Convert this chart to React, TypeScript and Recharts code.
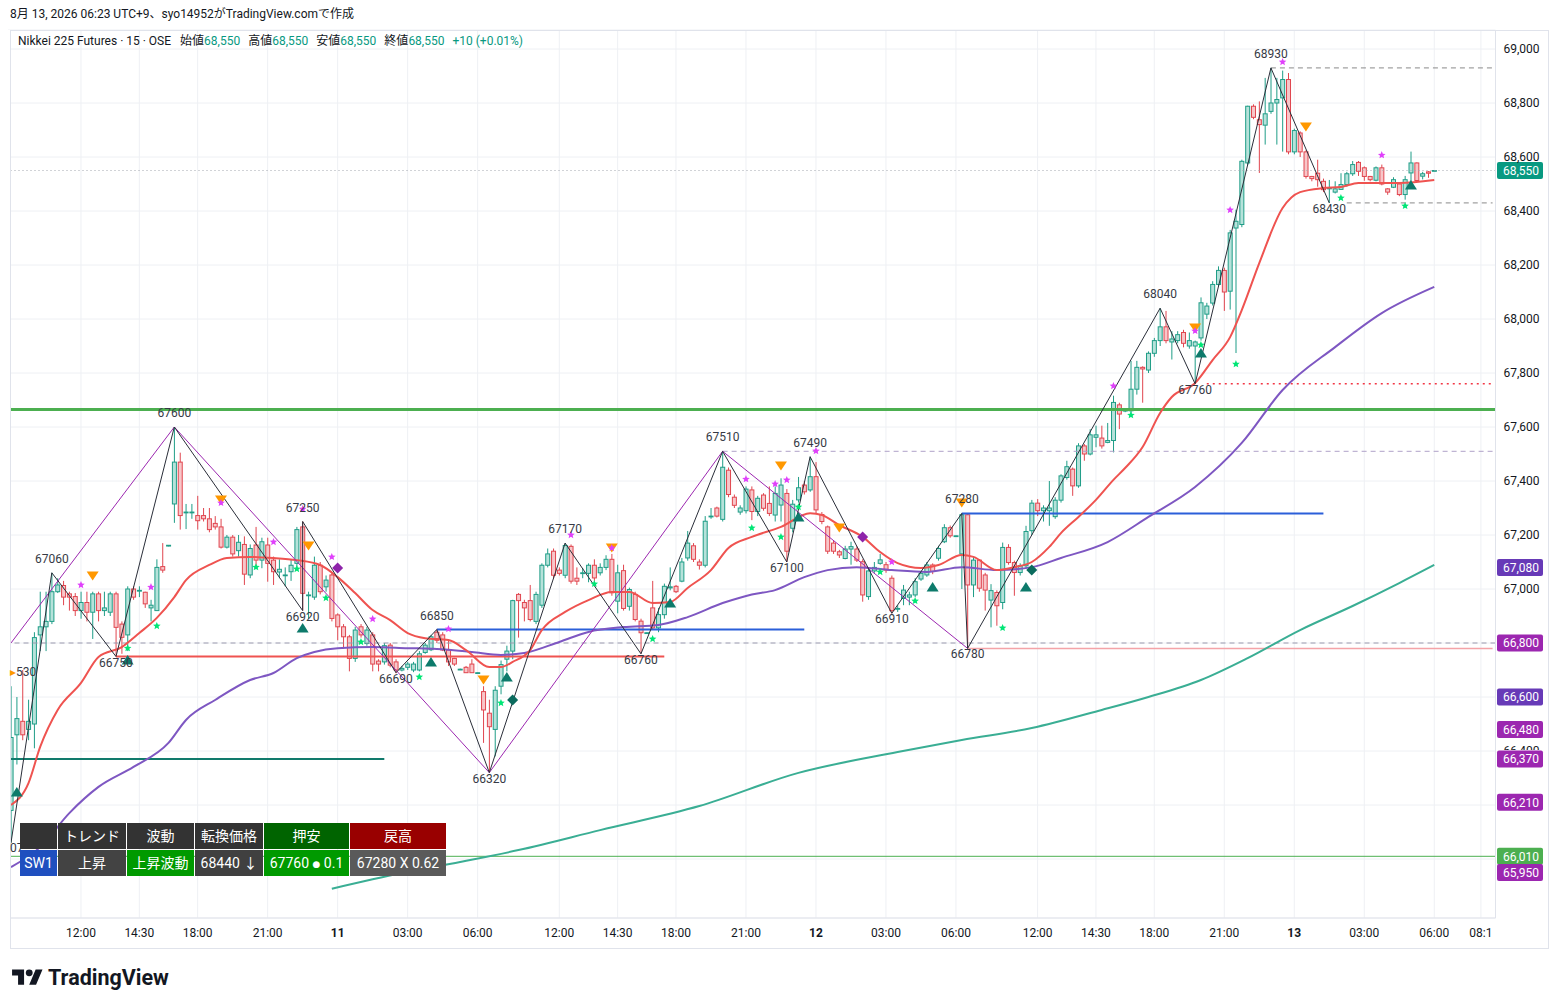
import React from 'react';
import { ComposedChart, Bar, Line, XAxis, YAxis, CartesianGrid, ReferenceLine } from 'recharts';

// 15-minute candles, index 0 = 09:00 on the 10th
const opens = [
  66180, 66460, 66510, 66480, 66500, 66830, 66860, 66880, 66990, 67013,
  66982, 66972, 66920, 66950, 66914, 66982, 66920, 66914, 66982, 66870,
  66830, 67000, 66993, 66988, 66930, 66920, 67083, 67160, 67315, 67470,
  67282, 67282, 67272, 67272, 67260, 67243, 67230, 67155, 67192, 67142,
  67165, 67052, 67163, 67107, 67163, 67107, 67063, 67050, 67064, 67095,
  67230, 66975, 66970, 67088, 67008, 67052, 66904, 66860, 66823, 66743,
  66860, 66798, 66830, 66733, 66730, 66792, 66730, 66700, 66710, 66700,
  66700, 66765, 66775, 66840, 66830, 66774, 66743, 66701, 66710, 66722,
  66690, 66620, 66540, 66480, 66640, 66740, 66770, 66980, 66950, 66957,
  66880, 66940, 67088, 67140, 67070, 67051, 67158, 67040, 67058, 67058,
  67088, 67060, 67080, 67110, 66955, 67068, 66936, 66980, 66881, 66838,
  66930, 66856, 66905, 67004, 67010, 67029, 67115, 67160, 67100, 67088,
  67268, 67300, 67258, 67440, 67340, 67285, 67290, 67367, 67287, 67348,
  67317, 67274, 67311, 67354, 67225, 67330, 67385, 67367, 67416, 67276,
  67230, 67170, 67138, 67113, 67148, 67148, 67101, 66972, 67067, 67095,
  67090, 67040, 66925, 66965, 66970, 66978, 67037, 67052, 67089, 67114,
  67175, 67227, 67197, 67130, 67275, 67015, 67107, 67052, 66959, 66987,
  66950, 67154, 67098, 67061, 67086, 67216, 67318, 67290, 67290, 67268,
  67329, 67413, 67444, 67382, 67530, 67500, 67562, 67559, 67543, 67550,
  67682, 67660, 67660, 67740, 67821, 67811, 67873, 67920, 67971, 67915,
  67920, 67950, 67900, 67900, 67930, 68018, 68059, 68128, 68180, 68103,
  68337, 68350, 68578, 68788, 68738, 68718, 68769, 68800, 68819, 68887,
  68619, 68689, 68619, 68528, 68540, 68510, 68482, 68470, 68480, 68498,
  68538, 68580, 68560, 68528, 68514, 68560, 68482, 68488, 68500, 68461,
  68541, 68578, 68529, 68545, 68550,
];
const highs = [
  66640, 66600, 66700, 66590, 66840, 66990, 66990, 67060, 67040, 67030,
  66990, 66985, 66990, 66990, 66990, 66990, 66990, 66990, 66990, 66880,
  67010, 67010, 67010, 66990, 66960, 67110, 67170, 67162, 67600, 67505,
  67315, 67315, 67345, 67300, 67300, 67270, 67260, 67200, 67200, 67200,
  67195, 67165, 67230, 67190, 67190, 67120, 67110, 67080, 67110, 67230,
  67250, 66990, 67120, 67100, 67050, 67060, 66910, 66870, 66830, 66860,
  66870, 66860, 66840, 66740, 66800, 66800, 66740, 66715, 66730, 66730,
  66770, 66800, 66830, 66850, 66840, 66810, 66745, 66705, 66715, 66740,
  66691, 66640, 66590, 66640, 66735, 66790, 66960, 66985, 66960, 67015,
  66990, 67095, 67150, 67150, 67080, 67170, 67165, 67080, 67078, 67095,
  67110, 67095, 67125, 67130, 67090, 67090, 67005, 66990, 66890, 66839,
  67030, 66930, 67020, 67080, 67015, 67115, 67215, 67170, 67110, 67270,
  67300, 67305, 67510, 67450, 67350, 67310, 67380, 67380, 67345, 67355,
  67380, 67380, 67410, 67370, 67330, 67415, 67400, 67490, 67470, 67285,
  67235, 67180, 67145, 67160, 67175, 67158, 67110, 67080, 67100, 67130,
  67100, 67050, 66940, 67015, 66990, 67040, 67065, 67100, 67095, 67160,
  67240, 67235, 67198, 67280, 67278, 67120, 67110, 67060, 67018, 66995,
  67172, 67166, 67105, 67095, 67234, 67330, 67333, 67310, 67400, 67340,
  67425, 67475, 67450, 67540, 67537, 67592, 67605, 67605, 67615, 67716,
  67690, 67665, 67845, 67845, 67825, 67880, 67930, 68040, 68030, 67955,
  67955, 67960, 67950, 67920, 68080, 68060, 68140, 68195, 68190, 68330,
  68405, 68590, 68790, 68795, 68806, 68893, 68930, 68893, 68920, 68911,
  68705, 68695, 68625, 68530, 68590, 68520, 68515, 68510, 68540, 68545,
  68585, 68585, 68565, 68530, 68565, 68572, 68485, 68525, 68505, 68530,
  68620, 68580, 68545, 68548, 68550,
];
const lows = [
  66060, 66350, 66440, 66440, 66410, 66770, 66770, 66870, 66985, 66940,
  66920, 66900, 66890, 66880, 66815, 66880, 66900, 66900, 66750, 66760,
  66770, 66960, 66970, 66930, 66880, 66920, 67060, 67158, 67245, 67220,
  67222, 67260, 67220, 67250, 67210, 67220, 67150, 67150, 67120, 67120,
  67015, 67040, 67077, 67077, 67027, 67015, 67040, 67010, 67030, 67080,
  66920, 66890, 66960, 66980, 66990, 66880, 66810, 66780, 66695, 66730,
  66820, 66790, 66695, 66695, 66720, 66710, 66688, 66695, 66700, 66692,
  66695, 66760, 66770, 66800, 66770, 66715, 66715, 66700, 66690, 66690,
  66689, 66430, 66320, 66380, 66610, 66695, 66740, 66820, 66880, 66880,
  66870, 66930, 67080, 67040, 67050, 67040, 67020, 67015, 67040, 67025,
  67030, 67050, 67070, 66975, 66910, 66920, 66920, 66880, 66760, 66837,
  66850, 66840, 66890, 66995, 66985, 67025, 67105, 67100, 67072, 67080,
  67260, 67265, 67250, 67340, 67300, 67275, 67280, 67255, 67270, 67290,
  67270, 67250, 67250, 67100, 67210, 67320, 67350, 67360, 67280, 67240,
  67130, 67130, 67115, 67110, 67090, 67100, 66953, 66960, 67060, 67090,
  67060, 66910, 66915, 66940, 66940, 66970, 67030, 67045, 67055, 67105,
  67170, 67190, 67196, 67000, 66780, 66970, 66990, 66920, 66858, 66864,
  66925, 67090, 66975, 67050, 67075, 67200, 67270, 67250, 67234, 67260,
  67320, 67405, 67345, 67375, 67475, 67495, 67525, 67520, 67540, 67506,
  67592, 67655, 67650, 67720, 67690, 67800, 67860, 67900, 67910, 67850,
  67910, 67895, 67890, 67760, 67920, 68000, 68050, 68120, 68030, 68035,
  67874, 68340, 68570, 68740, 68541, 68646, 68760, 68646, 68620, 68610,
  68610, 68600, 68520, 68510, 68490, 68470, 68430, 68465, 68478, 68490,
  68530, 68530, 68512, 68510, 68510, 68495, 68460, 68485, 68455, 68442,
  68510, 68510, 68517, 68523, 68550,
];
const closes = [
  66450, 66520, 66460, 66510, 66820, 66860, 66880, 66990, 67015, 66970,
  66970, 66920, 66950, 66914, 66982, 66920, 66930, 66982, 66858, 66821,
  67000, 66970, 66995, 66945, 66940, 67080, 67070, 67162, 67470, 67272,
  67285, 67285, 67253, 67260, 67220, 67230, 67155, 67192, 67130, 67173,
  67055, 67150, 67107, 67175, 67095, 67064, 67073, 67052, 67088, 67220,
  66984, 66978, 67088, 66990, 67033, 66891, 66860, 66823, 66743, 66848,
  66830, 66848, 66722, 66722, 66790, 66718, 66700, 66706, 66722, 66722,
  66760, 66792, 66823, 66810, 66774, 66730, 66722, 66703, 66690, 66690,
  66690, 66552, 66490, 66625, 66720, 66770, 66957, 66957, 66930, 66887,
  66980, 67088, 67130, 67051, 67058, 67161, 67029, 67029, 67060, 67088,
  67041, 67080, 67110, 66986, 67060, 66928, 66998, 66887, 66838, 66838,
  66856, 66905, 67010, 67008, 66990, 67100, 67170, 67110, 67088, 67251,
  67270, 67270, 67451, 67350, 67310, 67300, 67370, 67287, 67336, 67299,
  67280, 67354, 67385, 67140, 67314, 67375, 67360, 67416, 67293, 67250,
  67140, 67140, 67126, 67148, 67157, 67107, 66978, 67067, 67080, 67108,
  67070, 66920, 66928, 66996, 66978, 67027, 67058, 67089, 67065, 67150,
  67227, 67197, 67197, 67275, 67015, 67107, 67003, 66996, 66994, 66938,
  67154, 67098, 67061, 67086, 67213, 67318, 67290, 67300, 67300, 67329,
  67419, 67453, 67382, 67530, 67500, 67571, 67571, 67530, 67550, 67691,
  67648, 67662, 67740, 67821, 67815, 67873, 67920, 67971, 67920, 67926,
  67942, 67910, 67920, 67915, 68060, 68048, 68128, 68180, 68100, 68319,
  68362, 68584, 68788, 68747, 68720, 68760, 68800, 68813, 68887, 68619,
  68698, 68619, 68528, 68520, 68516, 68479, 68485, 68482, 68498, 68538,
  68572, 68547, 68528, 68516, 68560, 68500, 68470, 68516, 68461, 68516,
  68578, 68513, 68538, 68540, 68550,
];

// moving averages: [candle index, price]
const emaPts = [
  [0, 66200], [3, 66281], [5, 66415], [8, 66552], [12, 66652], [15, 66748], [19, 66785], [22, 66837],
  [25, 66893], [28, 66970], [30, 67033], [34, 67089], [37, 67115], [41, 67119], [45, 67115], [49, 67107],
  [53, 67089], [56, 67044], [59, 66985], [62, 66922], [65, 66885], [68, 66837], [71, 66818], [75, 66811],
  [78, 66774], [82, 66711], [84, 66711], [86, 66730], [89, 66774], [91, 66848], [95, 66915], [99, 66959],
  [103, 66989], [106, 66989], [110, 66948], [113, 66952], [116, 67004], [120, 67070], [123, 67152],
  [127, 67193], [132, 67230], [137, 67281], [139, 67274], [142, 67237], [146, 67193], [149, 67137],
  [152, 67096], [156, 67078], [159, 67089], [163, 67126], [165, 67119], [169, 67070], [172, 67081],
  [175, 67100], [178, 67156], [180, 67207], [183, 67267], [186, 67330], [189, 67404], [191, 67448],
  [194, 67526], [197, 67652], [199, 67711], [203, 67763], [206, 67848], [209, 67933], [211, 68033],
  [214, 68207], [218, 68411], [221, 68470], [225, 68485], [228, 68489], [231, 68504], [238, 68504],
  [244, 68515],
];
const midPts = [
  [0, 65970], [5, 66044], [10, 66170], [15, 66267], [21, 66341], [27, 66430], [30, 66515], [35, 66589],
  [41, 66663], [45, 66689], [49, 66744], [52, 66767], [56, 66781], [62, 66785], [68, 66781], [73, 66778],
  [79, 66767], [84, 66756], [88, 66763], [94, 66804], [99, 66841], [105, 66859], [111, 66867],
  [116, 66896], [122, 66948], [127, 66980], [131, 66996], [136, 67044], [140, 67070], [145, 67081],
  [151, 67070], [157, 67063], [163, 67081], [169, 67070], [175, 67081], [180, 67115], [188, 67174],
  [195, 67267], [203, 67378], [211, 67541], [218, 67737], [227, 67896], [235, 68022], [244, 68119],
];
const longPts = [
  [55, 65890], [67, 65948], [77, 65989], [87, 66033], [101, 66107], [118, 66196], [135, 66319],
  [152, 66396], [163, 66441], [175, 66485], [187, 66552], [195, 66600], [204, 66663], [212, 66744],
  [221, 66848], [230, 66937], [238, 67022], [244, 67089],
];

// swing pivots
const pivHigh = [[7, 67060], [28, 67600], [50, 67250], [73, 66850], [95, 67170], [122, 67510], [137, 67490], [163, 67280], [197, 68040], [216, 68930]];
const pivLow = [[18, 66750], [50, 66920], [66, 66690], [82, 66320], [108, 66760], [133, 67100], [151, 66910], [164, 66780], [203, 67760], [226, 68430]];
const blackZig = [
  [0, 66060], [7, 67060], [18, 66750], [28, 67600], [50, 66920], [50, 67250], [66, 66690], [73, 66850],
  [82, 66320], [95, 67170], [108, 66760], [122, 67510], [133, 67100], [137, 67490], [151, 66910],
  [163, 67280], [164, 66780], [197, 68040], [203, 67760], [216, 68930], [226, 68430],
];
const purpleZig = [[0, 66800], [28, 67600], [82, 66320], [122, 67510], [164, 66780]];

// signal markers: [candle index, price]
const triDown = [[14, 67048], [36, 67330], [51, 67159], [81, 66663], [103, 67152], [132, 67456], [142, 67226], [163, 67319], [203, 67967], [222, 68711]];
const triUp = [[1, 66248], [20, 66737], [50, 66856], [72, 66730], [85, 66674], [113, 66948], [135, 67267], [158, 67007], [174, 67007], [204, 67874], [240, 68496]];
const diaTeal = [[86, 66589], [175, 67070]];
const diaPurple = [[56, 67078], [146, 67193]];
const starPink = [
  [12, 67015], [24, 67007], [36, 67319], [45, 67174], [50, 67296], [55, 67119], [62, 66889], [75, 66852],
  [96, 67200], [103, 67152], [126, 67407], [131, 67389], [133, 67404], [138, 67511], [151, 67100],
  [189, 67752], [203, 67956], [209, 68404], [218, 68952], [235, 68607],
];
const starGreen = [
  [20, 66781], [25, 66863], [42, 67081], [49, 67074], [54, 66967], [60, 66804], [70, 66674], [84, 66578],
  [100, 67019], [110, 66815], [127, 67226], [132, 67193], [135, 67304], [149, 67063], [155, 66956],
  [170, 66856], [192, 67644], [204, 67904], [210, 67833], [228, 68448], [239, 68419],
];

// horizontal levels
const greenLevel = 67665;
const greenThin = 66010;
const lastPrice = 68550;
const dashedLevel = 66800;
const redSupport = { price: 66750, from: 18, to: 112 };
const blueA = { price: 66850, from: 73, to: 136 };
const blueB = { price: 67280, from: 163, to: 225 };
const tealLevel = { price: 66370, from: 0, to: 64 };
const pinkLevel = { price: 66780, from: 164, to: 254 };
const purpleDash = { price: 67510, from: 122, to: 254 };
const grayDashA = { price: 68930, from: 216, to: 254 };
const grayDashB = { price: 68430, from: 229, to: 254 };
const redDot = { price: 67760, from: 205, to: 254 };

const tagValues = [68550, 67080, 66800, 66600, 66480, 66370, 66210, 66010, 65950];
const tagColors = ['#089981', '#673ab7', '#9c27b0', '#673ab7', '#9c27b0', '#9c27b0', '#9c27b0', '#4caf50', '#9c27b0'];

const tickIdx = [12, 22, 32, 44, 56, 68, 80, 94, 104, 114, 126, 138, 150, 162, 176, 186, 196, 208, 220, 232, 244, 252];
const tickLabels = ['12:00', '14:30', '18:00', '21:00', '11', '03:00', '06:00', '12:00', '14:30', '18:00', '21:00', '12', '03:00', '06:00', '12:00', '14:30', '18:00', '21:00', '13', '03:00', '06:00', '08:1'];
const dayTicks = [56, 138, 220];
const priceTicks = [66000, 66200, 66400, 66600, 66800, 67000, 67200, 67400, 67600, 67800, 68000, 68200, 68400, 68600, 68800, 69000];
const hiddenTicks = [66000, 66200, 66600, 66800];
const halfHiddenTick = 66400;

const N_SLOTS = 255;
const FONT = 'Roboto, "Noto Sans CJK JP", "Noto Sans", sans-serif';

const rows: any[] = Array.from({ length: N_SLOTS }, (_, i) => {
  const r: any = { i };
  if (i < opens.length) {
    r.o = opens[i];
    r.h = highs[i];
    r.l = lows[i];
    r.c = closes[i];
    r.range = [lows[i], highs[i]];
  }
  return r;
});
const put = (pts: number[][], key: string) => pts.forEach(([i, v]) => { rows[i][key] = v; });
put(emaPts, 'ema');
put(midPts, 'mid');
put(longPts, 'long');
put(pivHigh, 'pivHi');
put(pivLow, 'pivLo');
put(triDown, 'triDown');
put(triUp, 'triUp');
put(diaTeal, 'diaTeal');
put(diaPurple, 'diaPurple');
put(starPink, 'starPink');
put(starGreen, 'starGreen');

const Candle = (props: any) => {
  const { x, y, width, height, payload } = props;
  if (!payload || payload.o == null || y == null || isNaN(y)) return <g />;
  const { o, h, l, c } = payload;
  const up = c >= o;
  const k = h - l > 0 ? height / (h - l) : 0;
  const yO = y + (h - o) * k;
  const yC = y + (h - c) * k;
  const top = Math.min(yO, yC);
  const bh = Math.max(0.8, Math.abs(yO - yC));
  const cx = x + width / 2;
  const stroke = up ? '#1f9d87' : '#e0464f';
  const fill = up ? '#b6e2da' : '#f8c6c9';
  return (
    <g>
      <line x1={cx} x2={cx} y1={y} y2={y + Math.max(height, 0.5)} stroke={stroke} strokeWidth={1} />
      <rect x={x} y={top} width={width} height={bh} fill={fill} stroke={stroke} strokeWidth={1} />
    </g>
  );
};

const starPath = (cx: number, cy: number, r: number) => {
  let d = '';
  for (let k = 0; k < 10; k++) {
    const rad = k % 2 === 0 ? r : r * 0.45;
    const a = -Math.PI / 2 + (k * Math.PI) / 5;
    d += (k === 0 ? 'M' : 'L') + (cx + rad * Math.cos(a)).toFixed(2) + ',' + (cy + rad * Math.sin(a)).toFixed(2);
  }
  return d + 'Z';
};

const makeDot = (kind: string) => (p: any) => {
  const { cx, cy, value, index } = p;
  if (value == null || cy == null || isNaN(cy)) return <g key={kind + index} />;
  switch (kind) {
    case 'triDown':
      return <path key={kind + index} d={`M${cx - 6},${cy - 4.5}L${cx + 6},${cy - 4.5}L${cx},${cy + 4.5}Z`} fill="#ff9800" />;
    case 'triUp':
      return <path key={kind + index} d={`M${cx - 6},${cy + 4.5}L${cx + 6},${cy + 4.5}L${cx},${cy - 5}Z`} fill="#0d7a6b" />;
    case 'diaTeal':
      return <path key={kind + index} d={`M${cx},${cy - 5.5}L${cx + 5.5},${cy}L${cx},${cy + 5.5}L${cx - 5.5},${cy}Z`} fill="#0b6b5e" />;
    case 'diaPurple':
      return <path key={kind + index} d={`M${cx},${cy - 5.5}L${cx + 5.5},${cy}L${cx},${cy + 5.5}L${cx - 5.5},${cy}Z`} fill="#8e24aa" />;
    case 'starPink':
      return <path key={kind + index} d={starPath(cx, cy, 4)} fill="#e040fb" />;
    case 'starGreen':
      return <path key={kind + index} d={starPath(cx, cy, 4)} fill="#00e676" />;
    case 'pivHi':
      return <text key={kind + index} x={cx} y={cy - 10} textAnchor="middle" fontSize={12} fontFamily={FONT} fill="#363a45">{value}</text>;
    case 'pivLo':
      return <text key={kind + index} x={cx} y={cy + 10} textAnchor="middle" fontSize={12} fontFamily={FONT} fill="#363a45">{value}</text>;
    default:
      return <g key={kind + index} />;
  }
};

const TimeTick = (p: any) => {
  const { x, y, payload } = p;
  const k = tickIdx.indexOf(payload.value);
  if (k < 0) return <g />;
  return (
    <text x={x} y={y} dy={11} textAnchor="middle" fontSize={12} fontFamily={FONT} fill="#131722" fontWeight={dayTicks.includes(payload.value) ? 700 : 400}>
      {tickLabels[k]}
    </text>
  );
};

const PriceTick = (p: any) => {
  const { x, y, payload } = p;
  if (hiddenTicks.includes(payload.value)) return <g />;
  const label = payload.value.toLocaleString('en-US');
  if (payload.value === halfHiddenTick) {
    // the 66,370 tag sits over the lower half of this tick label
    return (
      <g>
        <defs>
          <clipPath id="tick-half-clip">
            <rect x={x - 2} y={y - 10} width={52} height={9} />
          </clipPath>
        </defs>
        <text x={x} y={y} dy={4} textAnchor="start" fontSize={12} fontFamily={FONT} fill="#131722" clipPath="url(#tick-half-clip)">
          {label}
        </text>
      </g>
    );
  }
  return (
    <text x={x} y={y} dy={4} textAnchor="start" fontSize={12} fontFamily={FONT} fill="#131722">
      {label}
    </text>
  );
};

const seg = (lv: { price: number; from: number; to: number }) => [
  { x: lv.from, y: lv.price },
  { x: lv.to, y: lv.price },
];

const markerKinds = ['triDown', 'triUp', 'diaTeal', 'diaPurple', 'starPink', 'starGreen'];

const headCells = [
  { text: '', w: 37, bg: '#333333' },
  { text: 'トレンド', w: 68, bg: '#333333' },
  { text: '波動', w: 67, bg: '#333333' },
  { text: '転換価格', w: 68, bg: '#333333' },
  { text: '押安', w: 85, bg: '#006400' },
  { text: '戻高', w: 96, bg: '#990000' },
];
const bodyCells = [
  { text: 'SW1', w: 37, bg: '#1f4fbf' },
  { text: '上昇', w: 68, bg: '#434343' },
  { text: '上昇波動', w: 67, bg: '#009a00' },
  { text: '68440 ↓', w: 68, bg: '#404040' },
  { text: '67760 ● 0.1', w: 85, bg: '#009a00' },
  { text: '67280 X 0.62', w: 96, bg: '#5a5a5a' },
];

// render the bullet of the pullback cell at a smaller size, like the source table
const cellContent = (t: string) => {
  const k = t.indexOf('●');
  if (k < 0) return t;
  return (
    <>
      {t.slice(0, k)}
      <span style={{ fontSize: 9, fontFamily: '"DejaVu Sans", sans-serif', verticalAlign: '1px' }}>●</span>
      {t.slice(k + 1)}
    </>
  );
};

const TableRow: React.FC<{ cells: { text: string; w: number; bg: string }[]; top: number }> = ({ cells, top }) => (
  <div style={{ position: 'absolute', left: 20, top, display: 'flex', height: 26 }}>
    {cells.map((c, k) => (
      <div
        key={k}
        style={{
          width: c.w,
          height: 26,
          marginRight: 1,
          background: c.bg,
          color: '#fff',
          fontSize: 14,
          fontFamily: FONT,
          lineHeight: '26px',
          textAlign: 'center',
          whiteSpace: 'nowrap',
          overflow: 'hidden',
        }}
      >
        {cellContent(c.text)}
      </div>
    ))}
  </div>
);

const App: React.FC = () => {
  return (
    <div style={{ position: 'absolute', left: 0, top: 0, width: 1558, height: 1008, background: '#fff', overflow: 'hidden', fontFamily: FONT }}>
      <div style={{ position: 'absolute', left: 10, top: 6, fontSize: 12, lineHeight: '16px', color: '#131722', whiteSpace: 'nowrap' }}>
        8月 13, 2026 06:23 UTC+9、syo14952がTradingView.comで作成
      </div>

      <div style={{ position: 'absolute', left: 0, top: 0 }}>
        <ComposedChart width={1558} height={1008} data={rows} margin={{ top: 30, right: 9.5, bottom: 60, left: 8.08 }}>
          <CartesianGrid stroke="#eef0f4" strokeWidth={1} />
          <XAxis
            dataKey="i"
            type="category"
            ticks={tickIdx}
            interval={0}
            height={30}
            tickLine={false}
            tickSize={6}
            tickMargin={2}
            axisLine={{ stroke: '#e0e3eb' }}
            tick={<TimeTick />}
          />
          <YAxis
            orientation="right"
            type="number"
            width={53}
            domain={[65781.5, 69070.4]}
            allowDataOverflow
            ticks={priceTicks}
            tickLine={false}
            tickSize={6}
            tickMargin={2}
            axisLine={{ stroke: '#e0e3eb' }}
            tick={<PriceTick />}
          />

          <ReferenceLine y={lastPrice} stroke="#a3a6af" strokeDasharray="1 3" strokeWidth={1} />
          <ReferenceLine y={dashedLevel} stroke="#9a9aae" strokeDasharray="5 4" strokeWidth={1} />
          <ReferenceLine y={greenThin} stroke="#4caf50" strokeWidth={1} />
          <ReferenceLine y={greenLevel} stroke="#4caf50" strokeWidth={3} />
          <ReferenceLine segment={seg(purpleDash)} stroke="#b0a2c8" strokeDasharray="5 4" strokeWidth={1} />
          <ReferenceLine segment={seg(grayDashA)} stroke="#8a8a8a" strokeDasharray="5 4" strokeWidth={1} />
          <ReferenceLine segment={seg(grayDashB)} stroke="#8a8a8a" strokeDasharray="5 4" strokeWidth={1} />
          <ReferenceLine segment={seg(redDot)} stroke="#f23645" strokeDasharray="2 4" strokeWidth={1.5} />
          <ReferenceLine segment={seg(tealLevel)} stroke="#117a6c" strokeWidth={2} />
          <ReferenceLine segment={seg(pinkLevel)} stroke="#f4a3a8" strokeWidth={1.5} />
          <ReferenceLine segment={seg(redSupport)} stroke="#ef5350" strokeWidth={2} />
          <ReferenceLine segment={seg(blueA)} stroke="#2b5fd9" strokeWidth={2} />
          <ReferenceLine segment={seg(blueB)} stroke="#2b5fd9" strokeWidth={2} />

          <Bar dataKey="range" barSize={4} shape={(p: any) => <Candle {...p} />} isAnimationActive={false} />

          <Line dataKey="long" type="monotone" stroke="#3aae94" strokeWidth={2} dot={false} activeDot={false} connectNulls isAnimationActive={false} />
          <Line dataKey="mid" type="monotone" stroke="#7e57c2" strokeWidth={2} dot={false} activeDot={false} connectNulls isAnimationActive={false} />
          <Line dataKey="ema" type="monotone" stroke="#ef5350" strokeWidth={2} dot={false} activeDot={false} connectNulls isAnimationActive={false} />

          {purpleZig.slice(1).map((pt, k) => (
            <ReferenceLine
              key={'pz' + k}
              segment={[{ x: purpleZig[k][0], y: purpleZig[k][1] }, { x: pt[0], y: pt[1] }]}
              stroke="#9c27b0"
              strokeWidth={1}
              ifOverflow="visible"
            />
          ))}
          {blackZig.slice(1).map((pt, k) => (
            <ReferenceLine
              key={'bz' + k}
              segment={[{ x: blackZig[k][0], y: blackZig[k][1] }, { x: pt[0], y: pt[1] }]}
              stroke="#2a2e39"
              strokeWidth={1}
              ifOverflow="visible"
            />
          ))}

          {markerKinds.map((kind) => (
            <Line key={kind} dataKey={kind} stroke="none" dot={makeDot(kind)} activeDot={false} isAnimationActive={false} />
          ))}
          <Line dataKey="pivHi" stroke="none" dot={makeDot('pivHi')} activeDot={false} isAnimationActive={false} />
          <Line dataKey="pivLo" stroke="none" dot={makeDot('pivLo')} activeDot={false} isAnimationActive={false} />

          {tagValues.map((v, k) => (
            <ReferenceLine
              key={'tag' + k}
              y={v}
              stroke="none"
              ifOverflow="visible"
              label={(lp: any) => {
                const vb = lp.viewBox || {};
                const tx = (vb.x || 0) + (vb.width || 0);
                const ty = vb.y || 0;
                return (
                  <g>
                    <rect x={tx + 1.5} y={ty - 8.5} width={46} height={17} rx={2} fill={tagColors[k]} />
                    <text x={tx + 7.5} y={ty + 4.3} fill="#ffffff" fontSize={12} fontFamily={FONT}>
                      {v.toLocaleString('en-US')}
                    </text>
                  </g>
                );
              }}
            />
          ))}
        </ComposedChart>
      </div>

      {/* pane frame */}
      <div style={{ position: 'absolute', left: 0, top: 30, width: 10, height: 920, background: '#fff' }} />
      <div style={{ position: 'absolute', left: 10, top: 30, width: 1537, height: 917, border: '1px solid #e0e3eb', pointerEvents: 'none' }} />

      {/* clipped pivot labels at the left edge */}
      <div style={{ position: 'absolute', left: 10, top: 664, fontSize: 12, lineHeight: '16px', color: '#363a45' }}>
        <span style={{ color: '#ff9800' }}>▸</span>530
      </div>
      <div style={{ position: 'absolute', left: 10, top: 840, fontSize: 12, lineHeight: '16px', color: '#363a45' }}>07</div>

      {/* legend */}
      <div style={{ position: 'absolute', left: 18, top: 33, fontSize: 12, lineHeight: '16px', color: '#131722', whiteSpace: 'nowrap' }}>
        Nikkei 225 Futures · 15 · OSE
        <span style={{ marginLeft: 9 }}>始値</span><span style={{ color: '#089981' }}>68,550</span>
        <span style={{ marginLeft: 8 }}>高値</span><span style={{ color: '#089981' }}>68,550</span>
        <span style={{ marginLeft: 8 }}>安値</span><span style={{ color: '#089981' }}>68,550</span>
        <span style={{ marginLeft: 8 }}>終値</span><span style={{ color: '#089981' }}>68,550</span>
        <span style={{ marginLeft: 8, color: '#089981' }}>+10 (+0.01%)</span>
      </div>

      {/* swing table */}
      <TableRow cells={headCells} top={823} />
      <TableRow cells={bodyCells} top={850} />

      {/* logo */}
      <svg style={{ position: 'absolute', left: 12, top: 966 }} width={31} height={24} viewBox="0 0 36 28">
        <path d="M14 22H7V11H0V4h14v18zM28 22h-8l7.5-18h8L28 22z" fill="#131722" />
        <circle cx="20" cy="8" r="4" fill="#131722" />
      </svg>
      <div style={{ position: 'absolute', left: 48, top: 964, fontSize: 21.5, lineHeight: '28px', fontWeight: 700, color: '#131722', fontFamily: 'Roboto, sans-serif' }}>
        TradingView
      </div>
    </div>
  );
};

export default App;
